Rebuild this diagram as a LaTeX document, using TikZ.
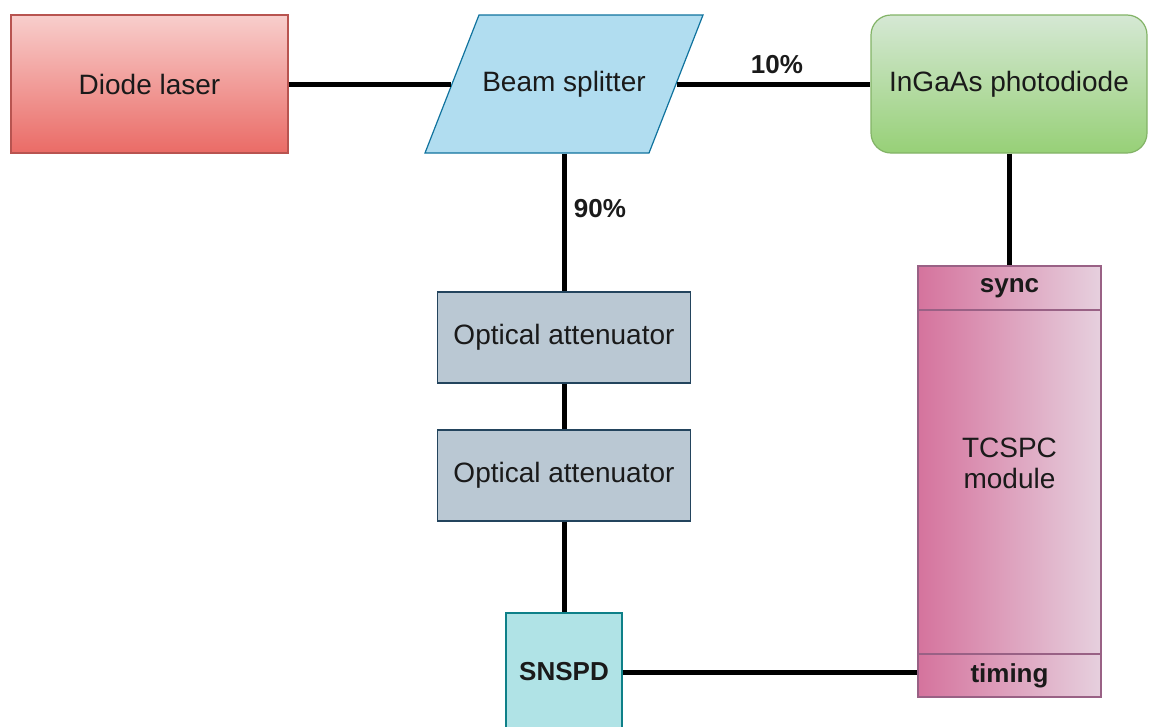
\documentclass[tikz,border=0pt]{standalone}
\usepackage{fontspec}
\setmainfont{Liberation Sans}
\definecolor{dlTop}{HTML}{F8CECC}
\definecolor{dlBot}{HTML}{EA6B66}
\definecolor{dlLine}{HTML}{B85450}
\definecolor{bsFill}{HTML}{B1DDF0}
\definecolor{bsLine}{HTML}{10739E}
\definecolor{gTop}{HTML}{D5E8D4}
\definecolor{gBot}{HTML}{97D077}
\definecolor{gLine}{HTML}{82B366}
\definecolor{atFill}{HTML}{BAC8D3}
\definecolor{atLine}{HTML}{23445D}
\definecolor{snFill}{HTML}{B0E3E6}
\definecolor{snLine}{HTML}{0E8088}
\definecolor{tcLeft}{HTML}{D5739D}
\definecolor{tcRight}{HTML}{E6D0DE}
\definecolor{tcLine}{HTML}{996185}
\definecolor{txt}{HTML}{1A1A1A}
\tikzset{
  box/.style={rectangle, inner sep=0pt, line width=1.2pt, text=txt,
    font=\fontsize{28}{32}\selectfont, align=center},
  conn/.style={line width=5pt, black},
  lbl/.style={font=\fontsize{26}{30}\selectfont\bfseries, text=txt, inner sep=0pt},
}
\begin{document}
\begin{tikzpicture}[x=1pt,y=-1pt]
\useasboundingbox (0,0) rectangle (1151,726);
\clip (0,0) rectangle (1151,726);
% nodes
\node[box, draw=dlLine, top color=dlTop, bottom color=dlBot,
  minimum width=277pt, minimum height=138pt] (dl) at (149.5,84) {Diode laser};
\draw[line width=1.2pt, draw=bsLine, fill=bsFill]
  (425,153) -- (479,15) -- (703,15) -- (649,153) -- cycle;
\node[box, minimum width=224pt, minimum height=138pt] (bs) at (564,84) {Beam splitter};
\node[box, draw=gLine, top color=gTop, bottom color=gBot, rounded corners=20pt,
  minimum width=276pt, minimum height=138pt] (ig) at (1009,84) {InGaAs photodiode};
\node[box, draw=atLine, fill=atFill, minimum width=253pt, minimum height=91pt]
  (at1) at (564,337.5) {Optical attenuator};
\node[box, draw=atLine, fill=atFill, minimum width=253pt, minimum height=91pt]
  (at2) at (564,475.5) {Optical attenuator};
\node[box, draw=snLine, fill=snFill, minimum width=116pt, minimum height=118pt,
  font=\fontsize{26}{30}\selectfont\bfseries] (sn) at (564,672) {SNSPD};
\node[box, draw=tcLine, left color=tcLeft, right color=tcRight,
  minimum width=183pt, minimum height=431pt] (tc) at (1009.5,481.5) {};
\node[box, draw=tcLine, minimum width=183pt, minimum height=44pt,
  font=\fontsize{26}{30}\selectfont\bfseries] (sync) at (1009.5,288) {sync};
\node[box, draw=tcLine, minimum width=183pt, minimum height=43pt,
  font=\fontsize{26}{30}\selectfont\bfseries] (timing) at (1009.5,675.5) {timing};
\node[box, font=\fontsize{28}{31}\selectfont] (tcl) at (1009.5,463) {TCSPC\\module};
% connectors
\draw[conn] (dl.east) -- (bs.west);
\draw[conn] (bs.east) -- (ig.west);
\draw[conn] (bs.south) -- (at1.north);
\draw[conn] (at1.south) -- (at2.north);
\draw[conn] (at2.south) -- (sn.north);
\draw[conn] (ig.south) -- (ig.south |- tc.north);
\draw[conn] (sn.east) -- (sn.east -| tc.west);
% labels
\node[lbl] (l10) at (777,65) {10\%};
\node[lbl] (l90) at (600,209) {90\%};
\end{tikzpicture}
\end{document}
